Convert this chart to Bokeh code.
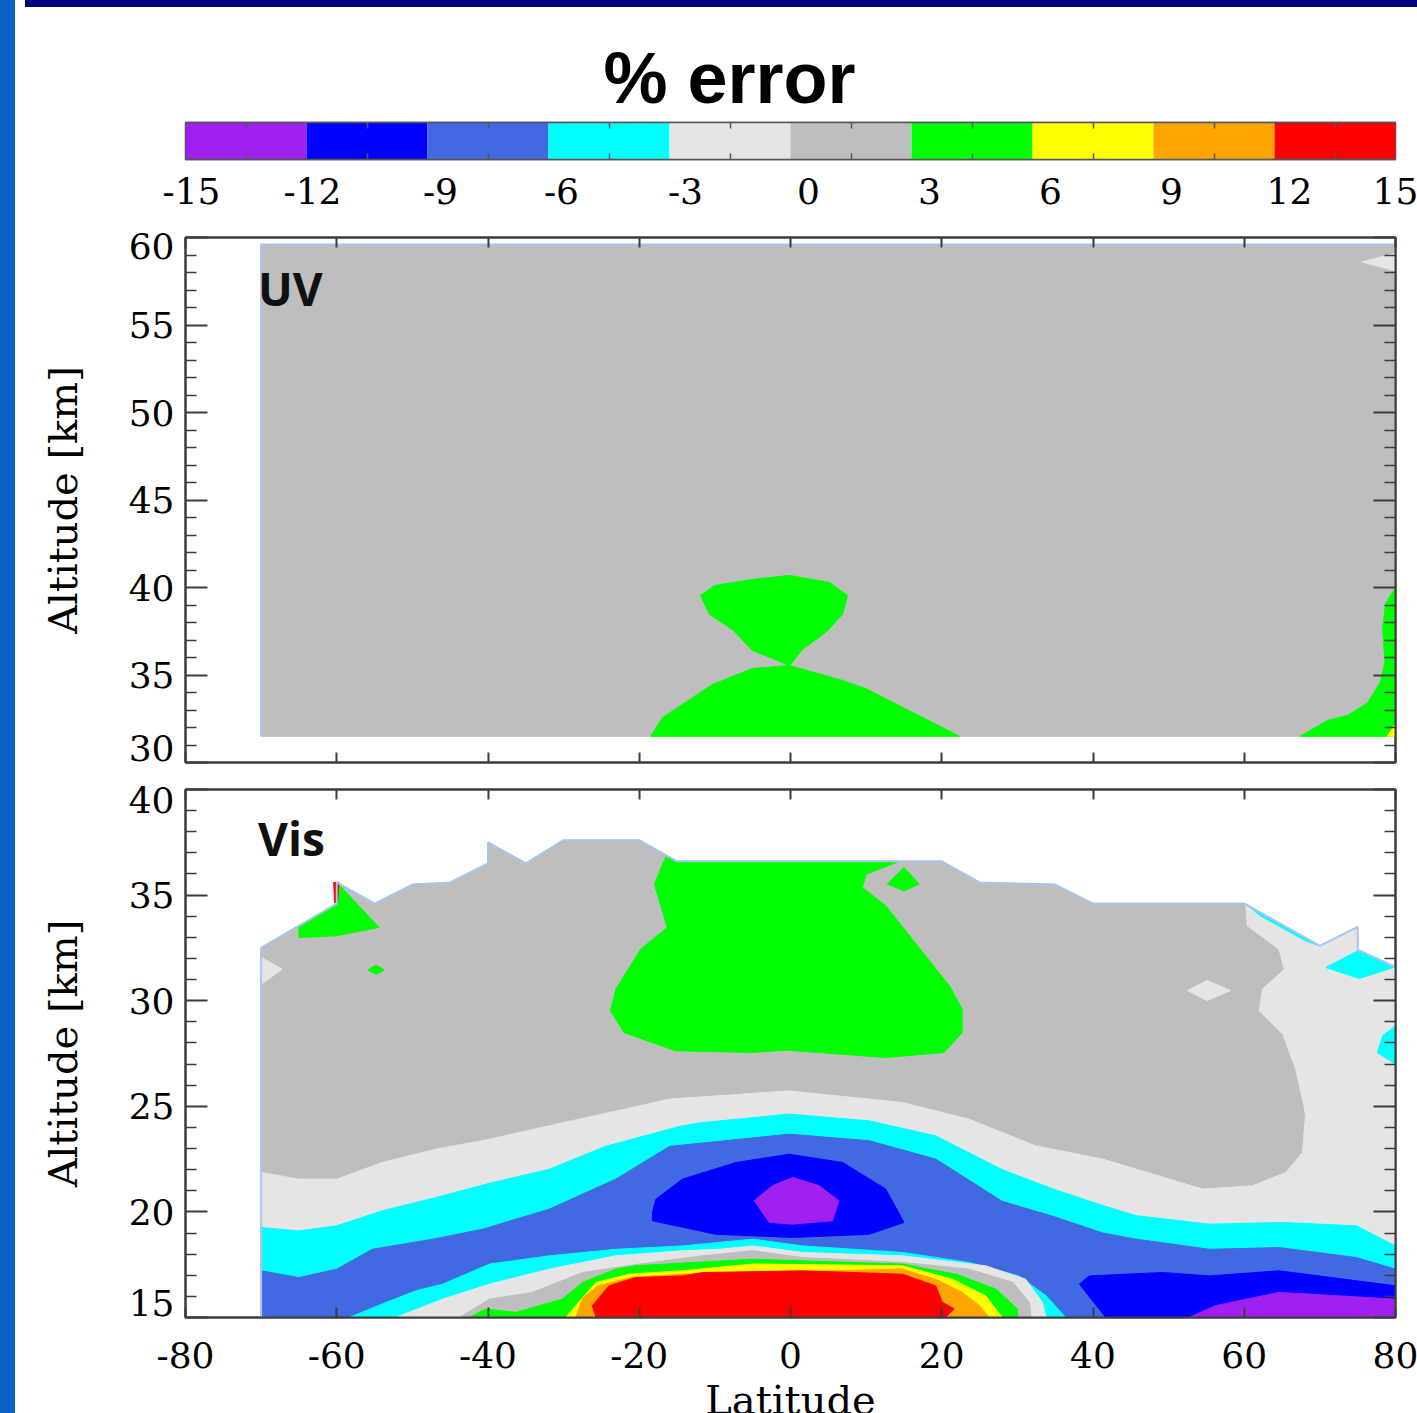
from bokeh.plotting import figure
from bokeh.layouts import column, row
from bokeh.models import Div, FixedTicker, LinearAxis, Range1d, Title
from bokeh.embed import file_html
from bokeh.resources import INLINE
from bokeh.core.properties import value

# ------------------------------------------------------------------ data
LEVELS = [-15, -12, -9, -6, -3, 0, 3, 6, 9, 12, 15]
LEVEL_COLORS = ["#A020F0", "#0000FF", "#4169E1", "#00FFFF", "#E5E5E5",
                "#BEBEBE", "#00FF00", "#FFFF00", "#FFA500", "#FF0000"]
LAT_TICKS = [-80, -60, -40, -20, 0, 20, 40, 60, 80]
UV_ALT_TICKS = [30, 35, 40, 45, 50, 55, 60]
VIS_ALT_TICKS = [15, 20, 25, 30, 35, 40]
PANEL_NAMES = ["UV", "Vis"]
TITLE = "% error"

# --- UV panel contour regions (latitude, altitude km); band = lower level of the bin
UV_DOMAIN_LAT = [-70, -70, 80, 80]
UV_DOMAIN_ALT = [31.5, 59.6, 59.6, 31.5]
UV_LGRAY_TR_LAT = [80, 75.5, 80]
UV_LGRAY_TR_ALT = [59.1, 58.6, 58.1]
UV_GREEN_UP_LAT = [-11.9, -10.05, -5.03, -0.13, 5.16, 7.54, 6.88, 4.63, 1.59, -0.13, -5.03, -7.67, -10.71]
UV_GREEN_UP_ALT = [39.54, 40.11, 40.46, 40.69, 40.29, 39.54, 38.46, 37.43, 36.46, 35.54, 36.4, 37.6, 38.46]
UV_GREEN_LOW_LAT = [-18.5, -16.9, -10.3, -5.03, -0.13, 6.88, 9.92, 22.35]
UV_GREEN_LOW_ALT = [31.5, 32.57, 34.46, 35.37, 35.54, 34.69, 34.23, 31.5]
UV_GREEN_R_LAT = [80, 78.7, 78.3, 78.6, 78.0, 76.3, 73.7, 71.0, 67.4, 80]
UV_GREEN_R_ALT = [40.0, 39.1, 37.7, 35.7, 34.6, 33.4, 32.7, 32.4, 31.5, 31.5]
UV_YELLOW_R_LAT = [78.9, 80, 80]
UV_YELLOW_R_ALT = [31.5, 32.2, 31.5]

# --- Vis panel contour regions
VIS_DOMAIN_LAT = [-70, -70, -60, -60, -55, -50, -45, -40, -40, -35, -30, -20, -15, 20, 25, 35, 40, 60, 70, 75, 75, 80, 80]
VIS_DOMAIN_ALT = [15, 32.5, 34.6, 35.6, 34.6, 35.5, 35.6, 36.5, 37.5, 36.5, 37.6, 37.6, 36.6, 36.6, 35.6, 35.5, 34.6, 34.6, 32.6, 33.5, 32.4, 31.6, 15]
VIS_LGRAY_LAT = [-70, -65, -60, -54, -46.9, -39.8, -31.9, -20, -16, -0.2, 14.8, 23.6, 32.4, 41.3, 54.5, 61.1,
                 65.5, 67.7, 68.1, 67.9, 66.8, 65.1, 62.0, 62.4, 65.3, 64.6, 60.4, 60.2, 70, 75, 75, 80, 80, -70]
VIS_LGRAY_ALT = [21.87, 21.55, 21.55, 22.34, 22.97, 23.44, 24.08, 25.02, 25.34, 25.73, 25.18, 24.39, 23.13, 22.5, 21.08, 21.24,
                 21.87, 22.81, 24.55, 25.02, 26.76, 28.41, 29.52, 30.54, 31.49, 32.44, 33.55, 34.6, 32.6, 33.5, 32.4, 31.6, 15, 15]
VIS_LGRAY_WEDGE_LAT = [-70, -67.2, -70]
VIS_LGRAY_WEDGE_ALT = [32.05, 31.49, 30.78]
VIS_LGRAY_DIAMOND_LAT = [52.5, 55.1, 58.2, 55.1]
VIS_LGRAY_DIAMOND_ALT = [30.48, 30.96, 30.48, 30.01]
VIS_CYAN_LAT = [-70, -65, -60, -54, -46.9, -39.4, -31.9, -24.5, -14.3, -11.6, -0.2, 10.4, 19.2, 28, 34.6, 41.3, 45.7, 55.4, 65.1, 74.8, 80, 80, -70]
VIS_CYAN_ALT = [19.26, 19.10, 19.34, 20.05, 20.68, 21.39, 22.02, 23.1, 24.08, 24.23, 24.63, 24.31, 23.60, 22.0, 21.1, 20.3, 19.82, 19.42, 19.50, 19.34, 18.39, 15, 15]
VIS_ROYAL_LAT = [-70, -65, -60, -55.3, -47.3, -40.7, -31.9, -23.1, -16, -0.2, 10.4, 19.2, 28, 34.6, 41.3, 45.7, 55.4, 64.6, 74.8, 80, 80, -70]
VIS_ROYAL_ALT = [17.21, 16.89, 17.29, 18.23, 18.71, 19.18, 20.13, 21.55, 23.1, 23.68, 23.37, 22.5, 20.5, 19.8, 19.0, 18.71, 18.23, 18.31, 17.84, 17.29, 15, 15]
VIS_BUMP_CYAN_LAT = [-58.35, -54, -49.5, -46, -39.8, -31.9, -23.1, -14.3, -5, 1.6, 14.8, 23.6, 30.2, 33.8, 36.4]
VIS_BUMP_CYAN_ALT = [15, 15.64, 16.27, 16.58, 17.53, 17.92, 18.23, 18.39, 18.71, 18.39, 18.08, 17.61, 16.97, 16.03, 15]
VIS_BUMP_LGRAY_LAT = [-52.2, -46, -39.8, -31.9, -23.1, -14.3, -9.4, -5, 1.6, 14.8, 25.8, 31.1, 33.3, 33.8]
VIS_BUMP_LGRAY_ALT = [15, 15.87, 16.58, 17.29, 17.92, 18.16, 18.23, 18.39, 18.08, 17.92, 17.45, 16.81, 15.72, 15]
VIS_BUMP_GRAY_LAT = [-43.8, -39.8, -34.1, -27.5, -20, -11.6, -5, 1.6, 14.8, 23.6, 29.4, 31.6, 31.8]
VIS_BUMP_GRAY_ALT = [15, 15.87, 16.19, 17.13, 17.53, 17.92, 18.16, 17.84, 17.61, 17.29, 16.66, 15.72, 15]
VIS_BUMP_GREEN_LAT = [-42.5, -40.3, -36.3, -30.2, -27.5, -23.1, -20.5, -5, 14.8, 21.9, 27.2, 30, 30]
VIS_BUMP_GREEN_ALT = [15, 15.40, 15.24, 15.87, 16.66, 17.29, 17.45, 17.76, 17.53, 17.05, 16.34, 15.40, 15]
VIS_BUMP_YELLOW_LAT = [-29.7, -28.4, -25.7, -21.3, -14.3, -5, 14.8, 21.4, 25.8, 28]
VIS_BUMP_YELLOW_ALT = [15, 15.56, 16.66, 17.05, 17.21, 17.53, 17.45, 16.81, 16.03, 15]
VIS_BUMP_ORANGE_LAT = [-28.4, -27.5, -25.5, -20.9, -14.3, 14.8, 19.2, 22.7, 25, 26.3]
VIS_BUMP_ORANGE_ALT = [15, 15.9, 16.5, 16.9, 17.05, 17.29, 16.81, 16.19, 15.56, 15]
VIS_BUMP_RED_LAT = [-25.7, -26.2, -24, -20.5, -14.3, -11.6, 1.6, 14.8, 19.2, 20.1, 21.65, 20.5]
VIS_BUMP_RED_ALT = [15, 15.56, 16.50, 16.89, 16.97, 17.13, 17.21, 17.05, 16.50, 15.72, 15.40, 15]
VIS_BLUE_C_LAT = [-18.25, -17.8, -14.3, -7.2, -0.2, 6.9, 12.6, 15.0, 10.4, 0.3, -9.9, -18.25]
VIS_BLUE_C_ALT = [19.97, 20.6, 21.55, 22.34, 22.73, 22.34, 21.08, 19.50, 18.94, 18.79, 18.94, 19.58]
VIS_PURPLE_C_LAT = [-4.8, -2.4, 0.3, 3.8, 6.4, 5.55, 0.3, -2.8]
VIS_PURPLE_C_ALT = [20.53, 21.24, 21.63, 21.24, 20.53, 19.58, 19.42, 19.50]
VIS_BLUE_R_LAT = [38.2, 39.5, 49.2, 55.4, 64.6, 80, 80, 41.7]
VIS_BLUE_R_ALT = [16.58, 16.97, 17.13, 16.97, 17.21, 16.50, 15, 15]
VIS_PURPLE_R_LAT = [52.7, 56.2, 64.6, 80, 80]
VIS_PURPLE_R_ALT = [15, 15.56, 16.19, 15.87, 15]
VIS_GREEN_C_LAT = [-16.5, -18.0, -16.3, -19.8, -23.1, -23.8, -22.0, -15.2, -5.0, -0.6, 12.6, 20.3, 22.7, 22.7, 21.0, 12.6, 9.5, 10.0, 14.4, -15]
VIS_GREEN_C_ALT = [36.8, 35.52, 33.47, 32.44, 30.54, 29.52, 28.49, 27.63, 27.55, 27.66, 27.31, 27.55, 28.49, 29.60, 30.71, 34.49, 35.36, 35.99, 36.6, 36.6]
VIS_GREEN_D_LAT = [12.8, 15.0, 17.0, 15.0]
VIS_GREEN_D_ALT = [35.52, 36.31, 35.52, 35.2]
VIS_GREEN_TL_LAT = [-65, -60, -60, -54.4, -60.1, -65]
VIS_GREEN_TL_ALT = [33.47, 34.57, 35.6, 33.47, 33.07, 32.99]
VIS_RED_SLIVER_LAT = [-60.4, -59.7, -59.9, -60.3]
VIS_RED_SLIVER_ALT = [35.6, 35.6, 34.65, 34.65]
VIS_GREEN_S_LAT = [-55.9, -54.8, -53.7, -54.8]
VIS_GREEN_S_ALT = [31.46, 31.68, 31.46, 31.25]
VIS_CYAN_TR_LAT = [70.8, 75.2, 80, 75.2]
VIS_CYAN_TR_ALT = [31.57, 32.4, 31.6, 31.05]
VIS_CYAN_R_LAT = [80, 78.3, 77.6, 80]
VIS_CYAN_R_ALT = [28.81, 28.34, 27.55, 26.99]
VIS_CYAN_SLIVER_LAT = [60.3, 69.9, 68, 62]
VIS_CYAN_SLIVER_ALT = [34.55, 32.6, 32.85, 34.05]

UV_LAYERS = [
    (UV_DOMAIN_LAT, UV_DOMAIN_ALT, 0),
    (UV_LGRAY_TR_LAT, UV_LGRAY_TR_ALT, -3),
    (UV_GREEN_UP_LAT, UV_GREEN_UP_ALT, 3),
    (UV_GREEN_LOW_LAT, UV_GREEN_LOW_ALT, 3),
    (UV_GREEN_R_LAT, UV_GREEN_R_ALT, 3),
    (UV_YELLOW_R_LAT, UV_YELLOW_R_ALT, 6),
]
VIS_LAYERS = [
    (VIS_DOMAIN_LAT, VIS_DOMAIN_ALT, 0),
    (VIS_LGRAY_LAT, VIS_LGRAY_ALT, -3),
    (VIS_LGRAY_WEDGE_LAT, VIS_LGRAY_WEDGE_ALT, -3),
    (VIS_LGRAY_DIAMOND_LAT, VIS_LGRAY_DIAMOND_ALT, -3),
    (VIS_CYAN_LAT, VIS_CYAN_ALT, -6),
    (VIS_ROYAL_LAT, VIS_ROYAL_ALT, -9),
    (VIS_BUMP_CYAN_LAT, VIS_BUMP_CYAN_ALT, -6),
    (VIS_BUMP_LGRAY_LAT, VIS_BUMP_LGRAY_ALT, -3),
    (VIS_BUMP_GRAY_LAT, VIS_BUMP_GRAY_ALT, 0),
    (VIS_BUMP_GREEN_LAT, VIS_BUMP_GREEN_ALT, 3),
    (VIS_BUMP_YELLOW_LAT, VIS_BUMP_YELLOW_ALT, 6),
    (VIS_BUMP_ORANGE_LAT, VIS_BUMP_ORANGE_ALT, 9),
    (VIS_BUMP_RED_LAT, VIS_BUMP_RED_ALT, 12),
    (VIS_BLUE_C_LAT, VIS_BLUE_C_ALT, -12),
    (VIS_PURPLE_C_LAT, VIS_PURPLE_C_ALT, -15),
    (VIS_BLUE_R_LAT, VIS_BLUE_R_ALT, -12),
    (VIS_PURPLE_R_LAT, VIS_PURPLE_R_ALT, -15),
    (VIS_GREEN_C_LAT, VIS_GREEN_C_ALT, 3),
    (VIS_GREEN_D_LAT, VIS_GREEN_D_ALT, 3),
    (VIS_GREEN_TL_LAT, VIS_GREEN_TL_ALT, 3),
    (VIS_RED_SLIVER_LAT, VIS_RED_SLIVER_ALT, 12),
    (VIS_GREEN_S_LAT, VIS_GREEN_S_ALT, 3),
    (VIS_CYAN_TR_LAT, VIS_CYAN_TR_ALT, -6),
    (VIS_CYAN_R_LAT, VIS_CYAN_R_ALT, -6),
    (VIS_CYAN_SLIVER_LAT, VIS_CYAN_SLIVER_ALT, -6),
]

# ------------------------------------------------------------------ style
SERIF = "DejaVu Serif"
AX = "#3c3c3c"
CBAX = "#555555"
EDGE = "#A9C4EE"
W = 1399
LEFT, RIGHT = 165, 24
FRAME_W = W - LEFT - RIGHT
# pixel nudge of each colour-bar label to the right of its boundary (as drawn in the source)
CB_LABEL_NUDGE_PX = [6, 6, 13, 13, 16, 18, 18, 18, 18, 15, 0]


def band_color(lo):
    return LEVEL_COLORS[LEVELS.index(lo)]


def style_axis(ax, tick_in, minor_in, labels=True, size="36px", color=AX):
    ax.axis_line_color = color
    ax.axis_line_width = 2
    ax.major_tick_line_color = color
    ax.major_tick_line_width = 2
    ax.minor_tick_line_color = color if minor_in else None
    ax.minor_tick_line_width = 1.5
    ax.major_tick_in = tick_in
    ax.major_tick_out = 0
    ax.minor_tick_in = minor_in
    ax.minor_tick_out = 0
    if labels:
        ax.major_label_text_font = SERIF
        ax.major_label_text_font_size = size
        ax.major_label_text_color = "black"
    else:
        ax.major_label_text_font_size = "1px"
        ax.major_label_text_color = None
        ax.major_label_standoff = 0


def label_axis(ticks, positions, standoff):
    """Axis that only carries tick labels (no line, no ticks) at given positions."""
    ax = LinearAxis(ticker=FixedTicker(ticks=positions),
                    major_label_overrides={pos: str(t) for pos, t in zip(positions, ticks)})
    ax.axis_line_color = None
    ax.major_tick_line_color = None
    ax.minor_tick_line_color = None
    ax.major_tick_in = 0
    ax.major_tick_out = 0
    ax.major_label_text_font = SERIF
    ax.major_label_text_font_size = "36px"
    ax.major_label_text_color = "black"
    ax.major_label_standoff = standoff
    return ax


# ------------------------------------------------------------------ colour bar + title
cb = figure(width=W, height=205, x_range=Range1d(LEVELS[0], LEVELS[-1]), y_range=Range1d(0, 1),
            output_backend="svg", toolbar_location=None, x_axis_location=None, y_axis_location=None,
            min_border_left=LEFT, min_border_right=RIGHT, min_border_top=110, min_border_bottom=58,
            outline_line_color=CBAX, outline_line_width=1.5,
            background_fill_color="white", border_fill_color="white")
cb.grid.visible = False
cb.quad(left=LEVELS[:-1], right=LEVELS[1:], bottom=0, top=1,
        fill_color=LEVEL_COLORS, line_color=None)
mids = [(a + b) / 2 for a, b in zip(LEVELS[:-1], LEVELS[1:])]
for loc in ("below", "above"):
    ax = LinearAxis(ticker=FixedTicker(ticks=LEVELS, minor_ticks=mids))
    style_axis(ax, 0, 6, labels=False, color=CBAX)
    ax.axis_line_width = 1.5
    cb.add_layout(ax, loc)
units_per_px = (LEVELS[-1] - LEVELS[0]) / FRAME_W
cb_pos = [min(lv + n * units_per_px, LEVELS[-1]) for lv, n in zip(LEVELS, CB_LABEL_NUDGE_PX)]
cb.add_layout(label_axis(LEVELS, cb_pos, 18), "below")
cb.add_layout(Title(text=TITLE, align="left", offset=418, text_font="Liberation Sans",
                    text_font_style="bold", text_font_size="72px", text_color="black",
                    standoff=9), "above")


# ------------------------------------------------------------------ panels
def make_panel(y0, y1, height, top, bottom, frame_h, y_ticks, nudge_lo, nudge_hi,
               layers, edge_lat, edge_alt, name, name_x, name_y, x_labels):
    p = figure(width=W, height=height, x_range=Range1d(-80, 80), y_range=Range1d(y0, y1),
               output_backend="svg", toolbar_location=None,
               x_axis_location=None, y_axis_location=None,
               min_border_left=LEFT, min_border_right=RIGHT,
               min_border_top=top, min_border_bottom=bottom,
               outline_line_color=AX, outline_line_width=2,
               background_fill_color="white", border_fill_color="white")
    p.grid.visible = False
    xs = [lay[0] for lay in layers]
    ys = [lay[1] for lay in layers]
    cols = [band_color(lay[2]) for lay in layers]
    p.patches(xs=xs, ys=ys, fill_color=cols, line_color=cols, line_width=1)
    p.line(edge_lat, edge_alt, line_color=EDGE, line_width=2)
    p.text(x=[name_x], y=[name_y], text=[name], text_font=value("Open Sans"),
           text_font_style="bold", text_font_size="46px", text_color="#101010",
           text_align="left", text_baseline="alphabetic")

    minor = [v for v in range(y0, y1 + 1) if v % 5 != 0]
    lt = LinearAxis(ticker=FixedTicker(ticks=y_ticks, minor_ticks=minor))
    style_axis(lt, 22, 11, labels=False)
    p.add_layout(lt, "left")
    per_px = (y1 - y0) / frame_h
    pos = list(y_ticks)
    pos[0] = y_ticks[0] + nudge_lo * per_px
    pos[-1] = y_ticks[-1] - nudge_hi * per_px
    ll = label_axis(y_ticks, pos, 11)
    ll.axis_label = "Altitude [km]"
    ll.axis_label_text_font = SERIF
    ll.axis_label_text_font_size = "40px"
    ll.axis_label_text_font_style = "normal"
    ll.axis_label_text_color = "black"
    ll.axis_label_standoff = 40
    p.add_layout(ll, "left")

    right = LinearAxis(ticker=FixedTicker(ticks=y_ticks, minor_ticks=minor))
    style_axis(right, 22, 11, labels=False)
    p.add_layout(right, "right")

    below = LinearAxis(ticker=FixedTicker(ticks=LAT_TICKS))
    if x_labels:
        style_axis(below, 10, 0)
        below.major_label_overrides = {t: str(t) for t in LAT_TICKS}
        below.major_label_standoff = 24
        below.axis_label = "Latitude"
        below.axis_label_text_font = SERIF
        below.axis_label_text_font_size = "40px"
        below.axis_label_text_font_style = "normal"
        below.axis_label_text_color = "black"
        below.axis_label_standoff = 6
    else:
        style_axis(below, 10, 0, labels=False)
    p.add_layout(below, "below")
    above = LinearAxis(ticker=FixedTicker(ticks=LAT_TICKS))
    style_axis(above, 10, 0, labels=False)
    p.add_layout(above, "above")
    return p


uv = make_panel(30, 60, 559, 20, 14, 525, UV_ALT_TICKS, 15, 8, UV_LAYERS,
                [UV_DOMAIN_LAT[0], UV_DOMAIN_LAT[1], UV_DOMAIN_LAT[2]],
                [UV_DOMAIN_ALT[0], UV_DOMAIN_ALT[1], UV_DOMAIN_ALT[2]],
                PANEL_NAMES[0], -70.4, 57.1, False)
vis = make_panel(15, 40, 651, 13, 110, 528, VIS_ALT_TICKS, 15, 10, VIS_LAYERS,
                 VIS_DOMAIN_LAT[:-1], VIS_DOMAIN_ALT[:-1],
                 PANEL_NAMES[1], -70.4, 37.7, True)

# ------------------------------------------------------------------ page frame
strip = Div(text="", width=18, height=1425, styles={"background-color": "#0A64C8"})
navy = Div(text="", width=W, height=10, styles={"background-color": "#000080"})

page = row(strip, column(navy, cb, uv, vis, spacing=0), spacing=0,
           styles={"margin-left": "-8px", "margin-top": "-8px"})

open("out.html", "w").write(file_html(page, INLINE, title="% error"))
